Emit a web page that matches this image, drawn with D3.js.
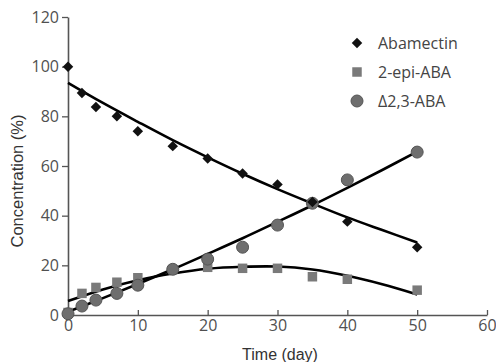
<!DOCTYPE html>
<html><head><meta charset="utf-8">
<script src="https://cdn.jsdelivr.net/npm/d3@7"></script>
<style>body{margin:0;background:#fff}svg{display:block}</style>
</head><body>
<svg id="c" width="496" height="362"></svg>
<script>
const days = [0, 2, 4, 7, 10, 15, 20, 25, 30, 35, 40, 50];
const abamectin = [100, 89.4, 83.8, 80, 74, 68, 63, 57, 52.6, 45.5, 37.6, 27.3];
const epiABA = [1, 8.7, 11.1, 13.2, 15, 18.3, 19.2, 18.8, 18.8, 15.4, 14.4, 10];
const deltaABA = [0.5, 3.6, 6, 8.7, 12, 18.4, 22.5, 27.3, 36.2, 45, 54.4, 65.6];
const fitDays = [0, 5, 10, 15, 20, 25, 30, 35, 40, 45, 50];
const abamectinFit = [93.5, 85.4, 77.8, 70.4, 63.5, 56.9, 50.7, 44.9, 39.3, 34.2, 29.2];
const epiFit = [5.6, 10.3, 14.0, 16.7, 18.6, 19.4, 19.5, 18.3, 15.8, 12.4, 8.3];
const deltaFit = [1.3, 6.8, 12.5, 18.4, 24.6, 30.9, 37.5, 44.2, 51.2, 58.4, 65.8];
const xTicks = [0, 10, 20, 30, 40, 50, 60];
const yTicks = [0, 20, 40, 60, 80, 100, 120];
const seriesNames = ["Abamectin", "2-epi-ABA", "\u03942,3-ABA"];

const svg = d3.select("#c");
const x = d3.scaleLinear().domain([0, 60]).range([68, 487]);
const y = d3.scaleLinear().domain([0, 120]).range([315, 17]);
const axisColor = "#555";
const font = "'Open Sans', 'Noto Sans', sans-serif";
const titleFont = "'Liberation Sans', Arial, sans-serif";

// axes
const gx = svg.append("g").attr("transform", `translate(0,${y(0)})`)
  .call(d3.axisBottom(x).tickValues(xTicks).tickSizeInner(-5).tickSizeOuter(0).tickPadding(5));
const gy = svg.append("g").attr("transform", `translate(${x(0)},0)`)
  .call(d3.axisLeft(y).tickValues(yTicks).tickSizeInner(6).tickSizeOuter(0).tickPadding(3));
[gx, gy].forEach(g => {
  g.select(".domain").attr("stroke", axisColor).attr("stroke-width", 1.6);
  g.selectAll(".tick line").attr("stroke", axisColor).attr("stroke-width", 1.3);
  g.selectAll(".tick text").attr("fill", "#505050").style("font-family", font).style("font-size", "16px");
});

svg.append("text").attr("x", 280).attr("y", 359.5).attr("text-anchor", "middle")
  .attr("fill", "#333").style("font-family", titleFont).style("font-size", "16px").text("Time (day)");
svg.append("text").attr("transform", "translate(23,181) rotate(-90)").attr("text-anchor", "middle")
  .attr("fill", "#333").style("font-family", titleFont).style("font-size", "16.5px").text("Concentration (%)");

// fit lines
const line = d3.line().x((d, i) => x(fitDays[i])).y(d => y(d)).curve(d3.curveCatmullRom);
[abamectinFit, epiFit, deltaFit].forEach(f => {
  svg.append("path").attr("d", line(f)).attr("fill", "none").attr("stroke", "#000").attr("stroke-width", 2.6);
});

const diamond = d3.symbol().type(d3.symbolDiamond2).size(70);
const square = d3.symbol().type(d3.symbolSquare).size(90);

// markers
svg.append("g").selectAll("path").data(epiABA).join("path")
  .attr("transform", (d, i) => `translate(${x(days[i])},${y(d)})`)
  .attr("d", square).attr("fill", "#7a7a7a");
svg.append("g").selectAll("circle").data(deltaABA).join("circle")
  .attr("cx", (d, i) => x(days[i])).attr("cy", d => y(d)).attr("r", 6)
  .attr("fill", "#6e6e6e").attr("stroke", "#555").attr("stroke-width", 1);
svg.append("g").selectAll("path").data(abamectin).join("path")
  .attr("transform", (d, i) => `translate(${x(days[i])},${y(d)})`)
  .attr("d", diamond).attr("fill", "#111");

// legend
const lg = svg.append("g");
const ly = [43, 72, 101];
lg.append("path").attr("transform", `translate(357,${ly[0]})`).attr("d", diamond).attr("fill", "#111");
lg.append("path").attr("transform", `translate(357,${ly[1]})`).attr("d", square).attr("fill", "#7a7a7a");
lg.append("circle").attr("cx", 357).attr("cy", ly[2]).attr("r", 6).attr("fill", "#6e6e6e").attr("stroke", "#555");
seriesNames.forEach((n, i) => {
  lg.append("text").attr("x", 378).attr("y", ly[i]).attr("dy", "0.35em").attr("fill", "#444")
    .style("font-family", font).style("font-size", "16px").text(n);
});
</script>
</body></html>
